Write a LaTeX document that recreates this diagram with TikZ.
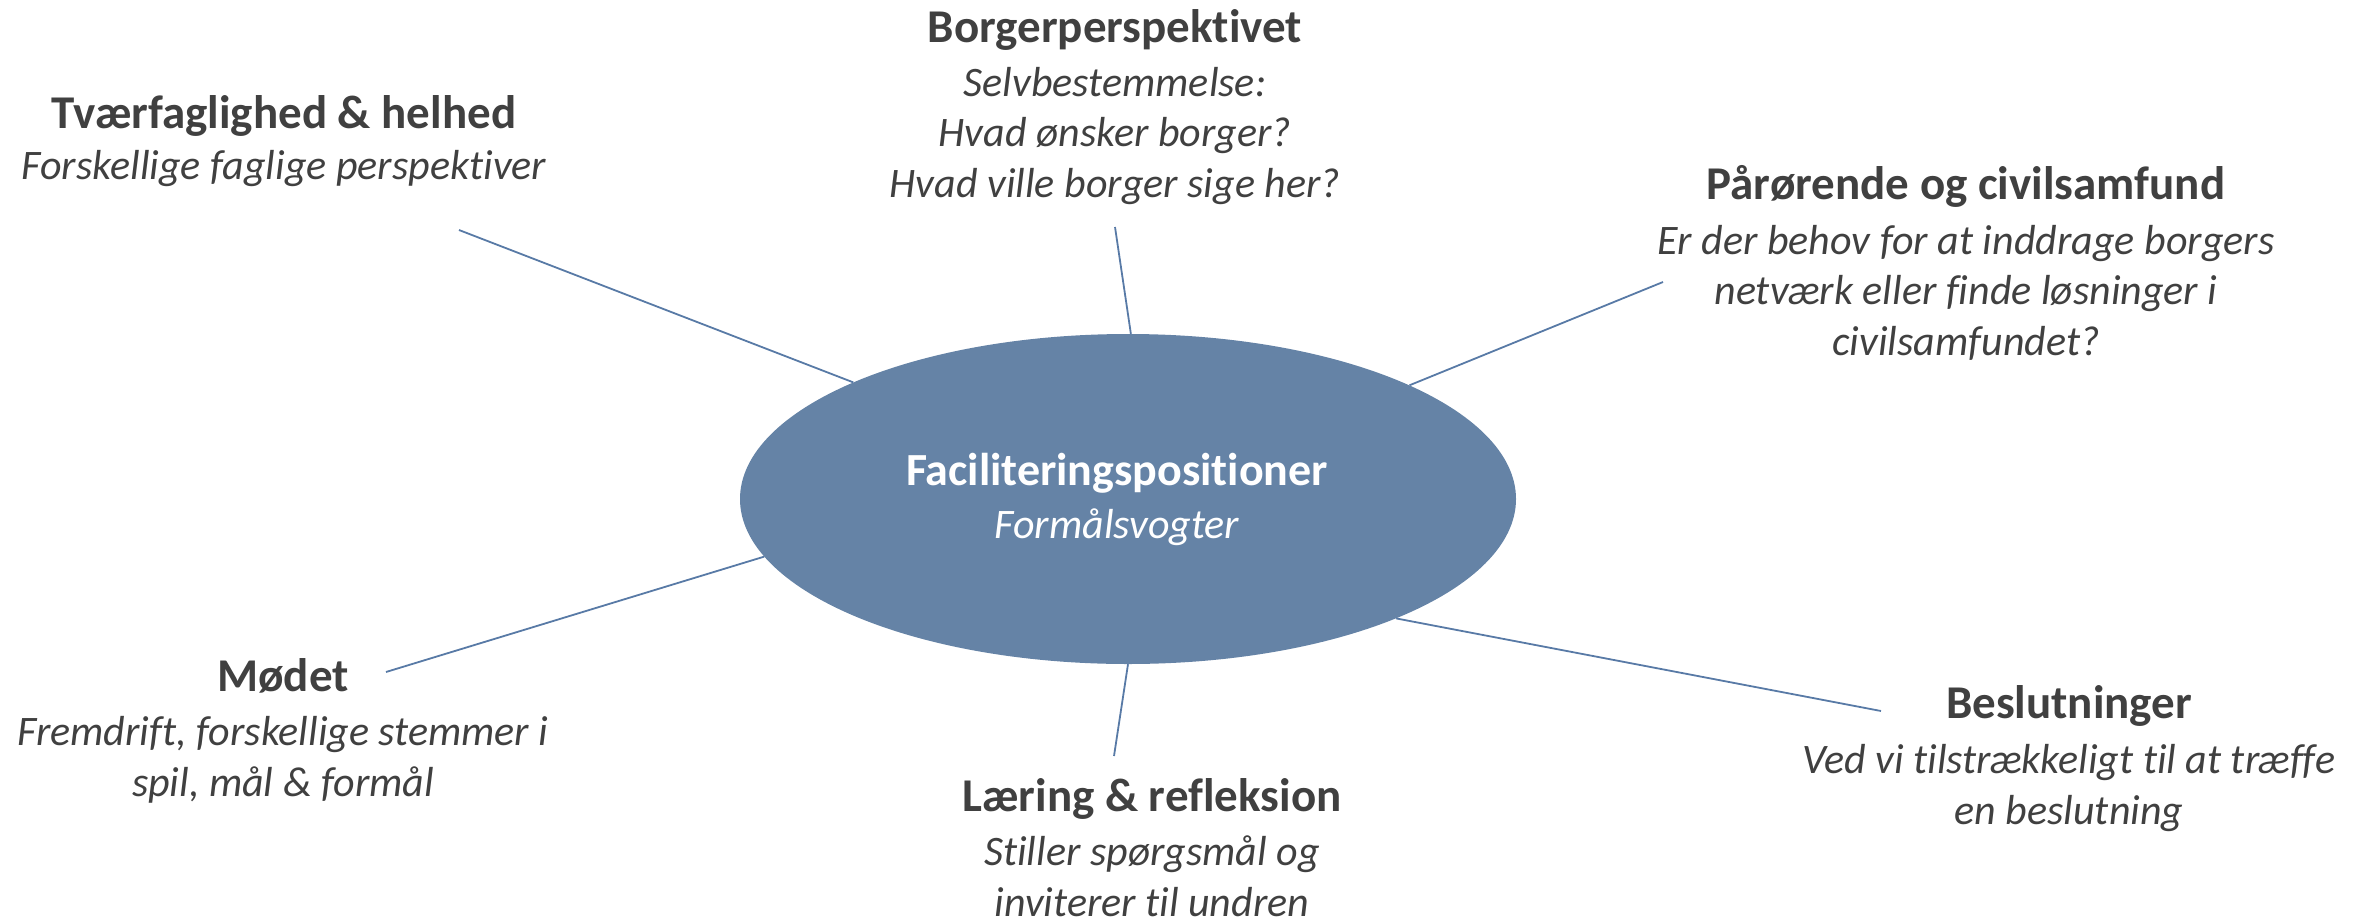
\documentclass[tikz,border=0pt]{standalone}
\usepackage{fontspec}
\setmainfont{Carlito}[Ligatures=NoCommon]
\usetikzlibrary{shapes.geometric}
\definecolor{ellfill}{RGB}{101,131,166}
\definecolor{linecol}{RGB}{88,122,166}
\definecolor{txtgray}{RGB}{64,64,64}
\newcommand\TitleF{\fontsize{47}{50.5}\selectfont\upshape\bfseries}
\newcommand\BodyF{\fontsize{42}{50.5}\selectfont\itshape}
\tikzset{
  block/.style={align=center, anchor=base, inner sep=0pt, text=txtgray, font=\BodyF},
  spoke/.style={draw=linecol, line width=1.8pt},
  hub/.style={ellipse, fill=ellfill, draw=none, minimum width=776pt, minimum height=330pt, inner sep=0pt}
}
\begin{document}
\begin{tikzpicture}[x=1pt,y=-1pt]
\useasboundingbox (0,0) rectangle (2362,919);
% central ellipse
\node[hub] (ell) at (1128,499) {};
\node[align=center, anchor=base, inner sep=0pt, text=white, font=\fontsize{42}{53}\selectfont] (ctr) at (1117,538)
  {{\fontsize{46}{53}\selectfont\bfseries Faciliteringspositioner}\\{\itshape Formålsvogter}};
% text blocks (anchored at the baseline of their last line)
\node[block] (tv) at (284,179) {{\TitleF Tværfaglighed \& helhed}\\[0pt]Forskellige faglige perspektiver};
\node[block] (bo) at (1115,197) {{\TitleF Borgerperspektivet}\\[3.5pt]Selvbestemmelse:\\Hvad ønsker borger?\\Hvad ville borger sige her?};
\node[block] (pa) at (1966,355) {{\TitleF Pårørende og civilsamfund}\\[4pt]Er der behov for at inddrage borgers\\netværk eller finde løsninger i\\civilsamfundet?};
\node[block] (mo) at (283,796) {{\TitleF Mødet}\\[4pt]Fremdrift, forskellige stemmer i\\spil, mål \& formål};
\node[block] (la) at (1152,916) {{\TitleF Læring \& refleksion}\\[4pt]Stiller spørgsmål og\\inviterer til undren};
\node[block] (be) at (2069,824) {{\TitleF Beslutninger}\\[5pt]Ved vi tilstrækkeligt til at træffe\\en beslutning};
% spoke end points
\coordinate (c1) at (459,230);
\coordinate (c2) at (1115,227);
\coordinate (c3) at (1663,282);
\coordinate (c4) at (386,672);
\coordinate (c5) at (1114,756);
\coordinate (c6) at (1881,711);
\draw[spoke] (c1) -- (ell.157.06);
\draw[spoke] (c2) -- (ell.89.6);
\draw[spoke] (c3) -- (ell.22.57);
\draw[spoke] (c4) -- (ell.189.5);
\draw[spoke] (c5) -- (ell.270.7);
\draw[spoke] (c6) -- (ell.336.9);
\end{tikzpicture}
\end{document}
